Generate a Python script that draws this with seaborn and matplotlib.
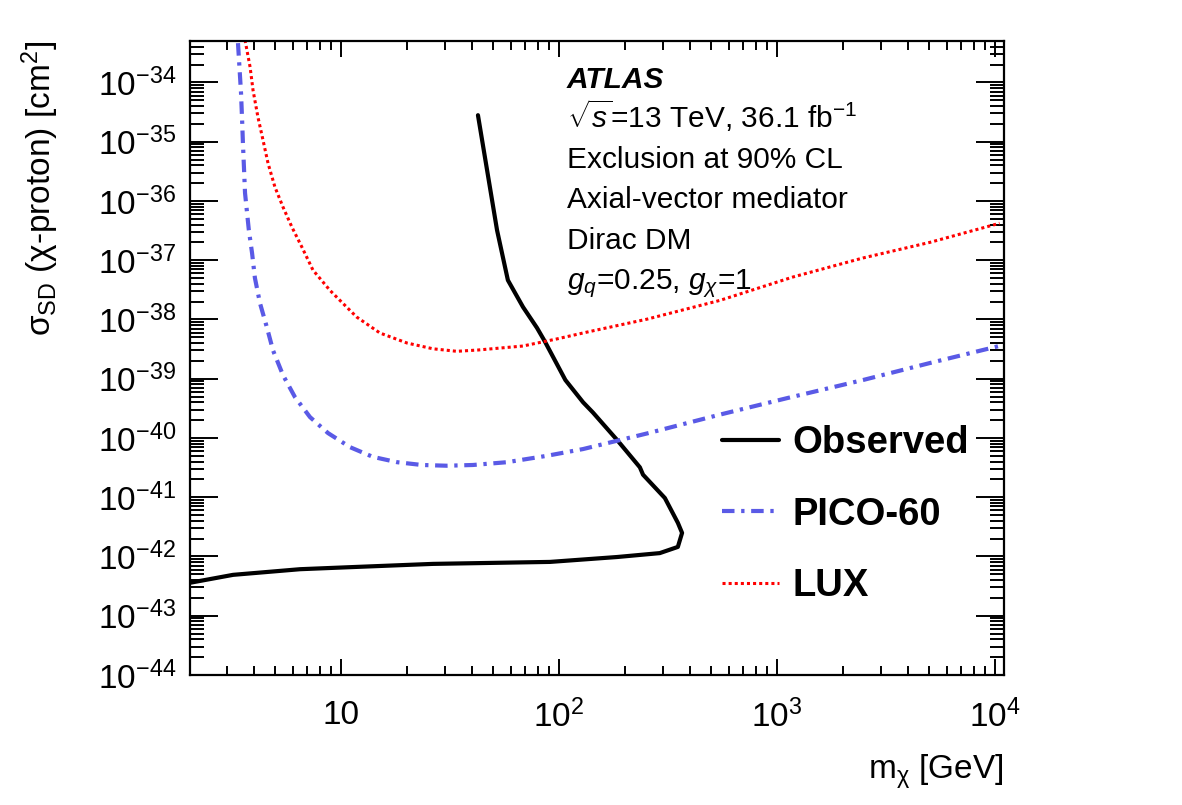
import numpy as np
import pandas as pd
import matplotlib
matplotlib.use("Agg")
import matplotlib.pyplot as plt
import matplotlib.ticker as mticker
import seaborn as sns

# values
obs_mass = [42.5, 52.0, 58.3, 68.4, 79.3, 86, 107, 129, 143, 185, 235, 243,
            306, 351, 367, 351, 290, 185, 91, 26.4, 11.0, 6.49, 3.20, 2.03]
obs_xsec = [2.8e-35, 3.2e-37, 4.6e-38, 1.62e-38, 7.2e-39, 4.3e-39, 9.5e-40,
            4.0e-40, 2.7e-40, 9.2e-41, 3.2e-41, 2.4e-41, 9.7e-42, 3.7e-42,
            2.5e-42, 1.45e-42, 1.14e-42, 9.8e-43, 8.1e-43, 7.5e-43, 6.6e-43,
            6.1e-43, 4.9e-43, 3.6e-43]

pico_mass = [3.37, 3.48, 3.52, 3.55, 3.59, 3.63, 3.78, 3.91, 4.03, 4.25, 4.58,
             4.88, 5.42, 6.15, 7.21, 8.72, 11.0, 14.0, 18.1, 23.5, 30.6, 40.3,
             57.7, 88, 129, 253, 548, 1112, 2480, 5030, 10900]
pico_xsec = [4.6e-34, 6.6e-35, 2.3e-35, 9.5e-36, 3.6e-36, 1.36e-36, 3.2e-37,
             1.32e-37, 5.0e-38, 1.89e-38, 7.2e-39, 3.0e-39, 1.15e-39, 4.9e-40,
             2.25e-40, 1.21e-40, 7.0e-41, 4.8e-41, 3.9e-41, 3.5e-41, 3.4e-41,
             3.5e-41, 3.9e-41, 5.0e-41, 6.5e-41, 1.19e-40, 2.48e-40, 4.7e-40,
             9.5e-40, 1.84e-39, 3.7e-39]

lux_mass = [3.63, 3.83, 3.95, 4.16, 4.39, 4.63, 4.98, 5.42, 5.96, 6.62, 7.44,
            8.90, 9.89, 11.8, 15.1, 20.1, 26.4, 34.0, 42.5, 68.3, 98, 134,
            253, 548, 1183, 2480, 5030, 10500]
lux_xsec = [5.2e-34, 1.81e-34, 7.4e-35, 2.6e-35, 1.06e-35, 4.3e-36, 1.71e-36,
            7.9e-37, 3.6e-37, 1.66e-37, 6.8e-38, 3.1e-38, 2.1e-38, 1.1e-38,
            5.9e-39, 4.0e-39, 3.2e-39, 2.9e-39, 3.05e-39, 3.56e-39, 4.7e-39,
            6.1e-39, 1.01e-38, 2.1e-38, 5.2e-38, 1.09e-37, 2.0e-37, 4.2e-37]

xtick_vals = [10, 100, 1000, 10000]
xtick_labels = ["10", "$10^{2}$", "$10^{3}$", "$10^{4}$"]
ytick_vals = [10.0 ** e for e in range(-44, -33)]
ytick_labels = ["$10^{%d}$" % e for e in range(-44, -33)]

info_lines = [r"$\sqrt{s}$=13 TeV, 36.1 fb$^{-1}$",
              "Exclusion at 90% CL",
              "Axial-vector mediator",
              "Dirac DM",
              r"$g_q$=0.25, $g_\chi$=1"]

sns.set_style("ticks")
plt.rcParams["font.family"] = ["Liberation Sans", "DejaVu Sans"]
plt.rcParams["mathtext.fontset"] = "custom"
plt.rcParams["mathtext.rm"] = "Liberation Sans"
plt.rcParams["mathtext.it"] = "Liberation Sans:italic"
plt.rcParams["mathtext.bf"] = "Liberation Sans:bold"
for key in ["text.color", "axes.labelcolor", "xtick.color", "ytick.color",
            "axes.edgecolor"]:
    plt.rcParams[key] = "black"

fig, ax = plt.subplots(figsize=(11.82, 8.05), dpi=100)
fig.subplots_adjust(left=190 / 1182, right=1004 / 1182,
                    bottom=1 - 675 / 805, top=1 - 41 / 805)

obs = pd.DataFrame({"mass": obs_mass, "xsec": obs_xsec})
pico = pd.DataFrame({"mass": pico_mass, "xsec": pico_xsec})
lux = pd.DataFrame({"mass": lux_mass, "xsec": lux_xsec})

sns.lineplot(data=obs, x="mass", y="xsec", sort=False, estimator=None,
             color="black", lw=3.0, label="Observed", ax=ax)
sns.lineplot(data=pico, x="mass", y="xsec", sort=False, estimator=None,
             color="#5a5ae6", lw=3.0, linestyle=(0, (3, 1.6, 0.8, 1.6)),
             label="PICO-60", ax=ax)
sns.lineplot(data=lux, x="mass", y="xsec", sort=False, estimator=None,
             color="#ff0000", lw=2.2, linestyle=(0, (1, 1)),
             label="LUX", ax=ax)

ax.set_xscale("log")
ax.set_yscale("log")
ax.set_xlim(2.03, 11000)
ax.set_ylim(1e-44, 5.0e-34)

ax.set_xticks(xtick_vals)
ax.set_xticklabels(xtick_labels)
ax.set_yticks(ytick_vals)
ax.set_yticklabels(ytick_labels)
ax.xaxis.set_minor_locator(mticker.LogLocator(subs=np.arange(2, 10), numticks=100))
ax.yaxis.set_minor_locator(mticker.LogLocator(subs=np.arange(2, 10), numticks=100))
ax.xaxis.set_minor_formatter(mticker.NullFormatter())
ax.yaxis.set_minor_formatter(mticker.NullFormatter())

ax.tick_params(which="both", direction="in", top=True, right=True,
               width=1.4, labelsize=24, colors="black")
ax.tick_params(axis="x", which="major", length=11.5, pad=18)
ax.tick_params(axis="x", which="minor", length=6.5)
ax.tick_params(axis="y", which="major", length=20, pad=10)
ax.tick_params(axis="y", which="minor", length=10)
for s in ax.spines.values():
    s.set_linewidth(1.6)
    s.set_color("black")

ax.set_xlabel(r"m$_{\mathrm{\chi}}$ [GeV]", fontsize=24, loc="right")
ax.xaxis.set_label_coords(1.0, -0.123)
ax.set_ylabel(r"σ$_{\mathrm{SD}}$ (χ-proton) [cm$^{2}$]", fontsize=24, loc="top")
ax.yaxis.set_label_coords(-0.158, 1.0)

ax.text(0.463, 0.926, "ATLAS", transform=ax.transAxes, fontsize=21.5,
        fontweight="bold", fontstyle="italic", va="baseline")
for i, line in enumerate(info_lines):
    ax.text(0.463, 0.863 - i * 0.0635, line, transform=ax.transAxes,
            fontsize=21.5, va="baseline")

ax.legend(loc="upper left", bbox_to_anchor=(0.654, 0.394), frameon=False,
          borderpad=0, borderaxespad=0, handlelength=1.47, handletextpad=0.37,
          labelspacing=0.93, prop={"weight": "bold", "size": 27.5})

fig.savefig("out.png", dpi=100)
